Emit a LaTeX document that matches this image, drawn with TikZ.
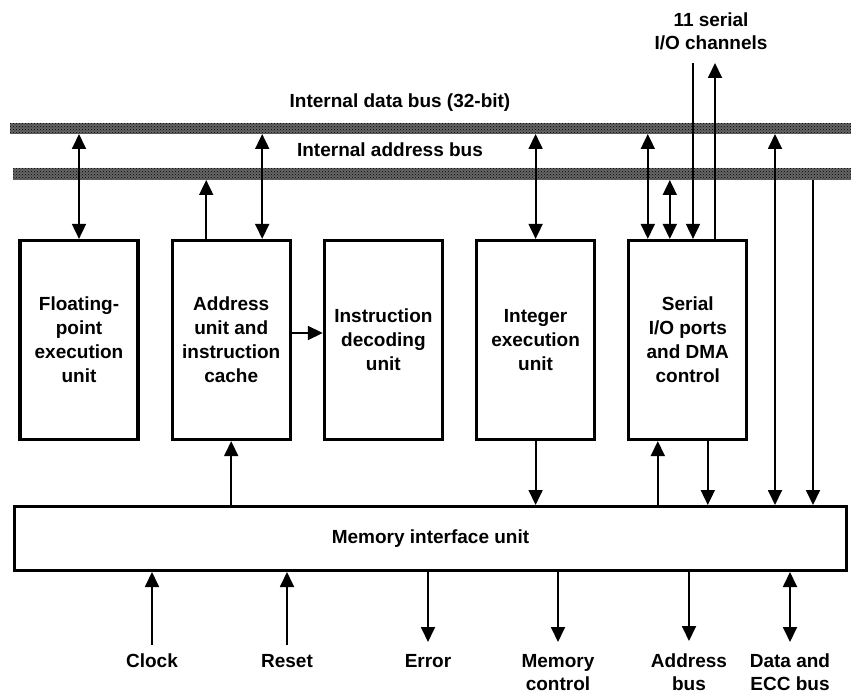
\documentclass[tikz,border=0pt]{standalone}
\usepackage{fontspec}
\setmainfont{Liberation Sans}
\usetikzlibrary{positioning,arrows.meta,patterns}
\tikzset{
  unitbox/.style={
    draw,
    line width=3.2pt,
    minimum width=118pt,
    minimum height=199pt,
    inner sep=0pt,
    align=center,
    font=\fontsize{19}{24}\selectfont\bfseries
  },
  membox/.style={
    draw,
    line width=3pt,
    minimum width=832pt,
    minimum height=64pt,
    font=\fontsize{19}{24}\selectfont\bfseries
  },
  bus/.style={
    preaction={fill=black!60},
    pattern=crosshatch dots,
    pattern color=black,
    inner sep=0pt,
    outer sep=0pt
  },
  lbl/.style={align=center,inner sep=1pt,font=\fontsize{19}{23}\selectfont\bfseries},
  sig/.style={line width=1.8pt,>={Triangle[length=15pt,width=14pt]}}
}

\begin{document}
\begin{tikzpicture}[x=1pt,y=-1pt,node distance=31pt]
    \useasboundingbox (0,0) rectangle (851,695);
    % internal buses
    \node[bus,minimum width=841pt,minimum height=11pt] (idata) at (430.5,128.5) {};
    \node[bus,minimum width=838pt,minimum height=12pt] (iaddr) at (432,174) {};
    \node[lbl] (idatalbl) at (400,103) {Internal data bus (32-bit)};
    \node[lbl] (iaddrlbl) at (390,150) {Internal address bus};
    \node[lbl,anchor=north] (chan) at (711,12) {11 serial\\I/O channels};
    % functional units
    \node[unitbox] (floating) at (79,340) {Floating-\\point\\execution\\unit};
    \node[unitbox,right=of floating] (address) {Address\\unit and\\instruction\\cache};
    \node[unitbox,right=of address] (instr) {Instruction\\decoding\\unit};
    \node[unitbox,right=of instr] (integer) {Integer\\execution\\unit};
    \node[unitbox,right=of integer] (serial) {Serial\\I/O ports\\and DMA\\control};
    \node[membox] (mem) at (430.5,538.5) {Memory interface unit};
    % external signals
    \node[lbl,anchor=north] (clock) at (152,653) {Clock};
    \node[lbl,anchor=north] (reset) at (287,653) {Reset};
    \node[lbl,anchor=north] (error) at (428,653) {Error};
    \node[lbl,anchor=north] (memctl) at (558,653) {Memory\\control};
    \node[lbl,anchor=north] (extaddr) at (689,653) {Address\\bus};
    \node[lbl,anchor=north] (extdata) at (790,653) {Data and\\ECC bus};
    \coordinate (chin) at (693,63);
    \coordinate (chout) at (715,63);
    \coordinate (dcol) at (775,0);
    \coordinate (acol) at (813,0);
    % bus connections
    \draw[sig,<->] (idata.south -| floating) -- (floating.north);
    \draw[sig,->] ([xshift=-25pt]address.north) -- ([xshift=-25pt]address.north |- iaddr.south);
    \draw[sig,<->] ([xshift=31pt]address.north |- idata.south) -- ([xshift=31pt]address.north);
    \draw[sig,->] ([yshift=7pt]address.east) -- ([yshift=7pt]address.east -| instr.west);
    \draw[sig,<->] (idata.south -| integer) -- (integer.north);
    \draw[sig,<->] ([xshift=-40pt]serial.north |- idata.south) -- ([xshift=-40pt]serial.north);
    \draw[sig,<->] ([xshift=-18pt]serial.north |- iaddr.south) -- ([xshift=-18pt]serial.north);
    \draw[sig,->] (chin) -- (chin |- serial.north);
    \draw[sig,->] (chout |- serial.north) -- (chout);
    \draw[sig,<->] (dcol |- idata.south) -- (dcol |- mem.north);
    \draw[sig,->] (acol |- iaddr.south) -- (acol |- mem.north);
    % memory interface connections
    \draw[sig,->] (mem.north -| address) -- (address.south);
    \draw[sig,->] (integer.south) -- (integer.south |- mem.north);
    \draw[sig,->] ([xshift=-30pt]serial.south |- mem.north) -- ([xshift=-30pt]serial.south);
    \draw[sig,->] ([xshift=20pt]serial.south) -- ([xshift=20pt]serial.south |- mem.north);
    \draw[sig,->,shorten <=8pt] (clock.north) -- (clock.north |- mem.south);
    \draw[sig,->,shorten <=8pt] (reset.north) -- (reset.north |- mem.south);
    \draw[sig,->,shorten >=11pt] (error.north |- mem.south) -- (error.north);
    \draw[sig,->,shorten >=11pt] (memctl.north |- mem.south) -- (memctl.north);
    \draw[sig,->,shorten >=12pt] (extaddr.north |- mem.south) -- (extaddr.north);
    \draw[sig,<->,shorten >=11pt] (extdata.north |- mem.south) -- (extdata.north);
  \end{tikzpicture}
\end{document}
